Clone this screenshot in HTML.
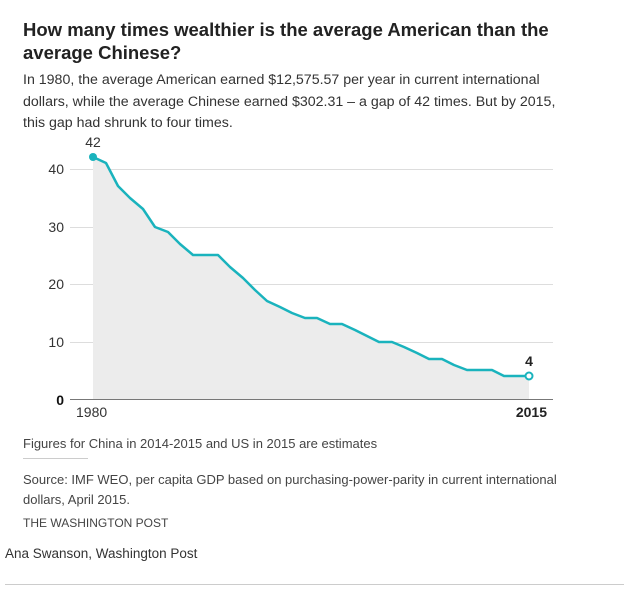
<!DOCTYPE html>
<html><head><meta charset="utf-8"><style>
body{margin:0;background:#fff;font-family:"Liberation Sans",sans-serif;color:#222;}
.t{position:absolute;left:23px;top:18px;font-size:18.5px;font-weight:bold;line-height:23px;width:590px;}
.s{position:absolute;left:23px;top:70px;font-size:14.2px;line-height:21.5px;white-space:nowrap;color:#333;}
.n{position:absolute;font-size:13px;color:#444;}
</style></head><body>
<div class="t">How many times wealthier is the average American than the average Chinese?</div>
<div class="s">In 1980, the average American earned $12,575.57 per year in current international<br>dollars, while the average Chinese earned $302.31 – a gap of 42 times. But by 2015,<br>this gap had shrunk to four times.</div>
<svg width="633" height="596" style="position:absolute;left:0;top:0">
<g stroke="#ddd" stroke-width="1">
<line x1="70" x2="553" y1="169.5" y2="169.5"/><line x1="70" x2="553" y1="227.5" y2="227.5"/>
<line x1="70" x2="553" y1="284.5" y2="284.5"/><line x1="70" x2="553" y1="342.5" y2="342.5"/>
</g>
<polygon fill="#ececec" points="93,157 106,163 118,186 130,198 143,209 155,227 168,232 180,244 193,255 205,255 218,255 230,267 243,278 255,290 267,301 280,307 292,313 305,318 317,318 330,324 342,324 355,330 367,336 379,342 392,342 404,347 417,353 429,359 442,359 454,365 467,370 479,370 492,370 504,376 517,376 529,376 529,399 93,399"/>
<polyline fill="none" stroke="#1ab3bd" stroke-width="2.5" stroke-linejoin="round" points="93,157 106,163 118,186 130,198 143,209 155,227 168,232 180,244 193,255 205,255 218,255 230,267 243,278 255,290 267,301 280,307 292,313 305,318 317,318 330,324 342,324 355,330 367,336 379,342 392,342 404,347 417,353 429,359 442,359 454,365 467,370 479,370 492,370 504,376 517,376 529,376"/>
<circle cx="93" cy="157" r="4" fill="#1ab3bd"/>
<circle cx="529" cy="376" r="3.5" fill="#fff" stroke="#1ab3bd" stroke-width="2"/>
<line x1="70" x2="553" y1="399.5" y2="399.5" stroke="#777" stroke-width="1"/>
<g font-family="Liberation Sans,sans-serif" font-size="14" fill="#333" text-anchor="end">
<text x="64" y="174">40</text><text x="64" y="232">30</text><text x="64" y="289">20</text><text x="64" y="347">10</text>
<text x="64" y="405" font-weight="bold" fill="#111">0</text>
</g>
<text x="93" y="147" font-family="Liberation Sans,sans-serif" font-size="14" fill="#333" text-anchor="middle">42</text>
<text x="529" y="366" font-family="Liberation Sans,sans-serif" font-size="14" font-weight="bold" fill="#222" text-anchor="middle">4</text>
<text x="76" y="417" font-family="Liberation Sans,sans-serif" font-size="14" fill="#333">1980</text>
<text x="547" y="417" font-family="Liberation Sans,sans-serif" font-size="14" font-weight="bold" fill="#222" text-anchor="end">2015</text>
<line x1="23" x2="88" y1="458.5" y2="458.5" stroke="#ccc"/>
<line x1="5" x2="624" y1="584.5" y2="584.5" stroke="#ccc"/>
</svg>
<div class="n" style="left:23px;top:436px;">Figures for China in 2014-2015 and US in 2015 are estimates</div>
<div class="n" style="left:23px;top:470px;line-height:20px;width:560px;">Source: IMF WEO, per capita GDP based on purchasing-power-parity in current international dollars, April 2015.</div>
<div class="n" style="left:23px;top:516px;font-size:12px;">THE WASHINGTON POST</div>
<div class="n" style="left:5px;top:546px;font-size:13.5px;color:#333;">Ana Swanson, Washington Post</div>
</body></html>
